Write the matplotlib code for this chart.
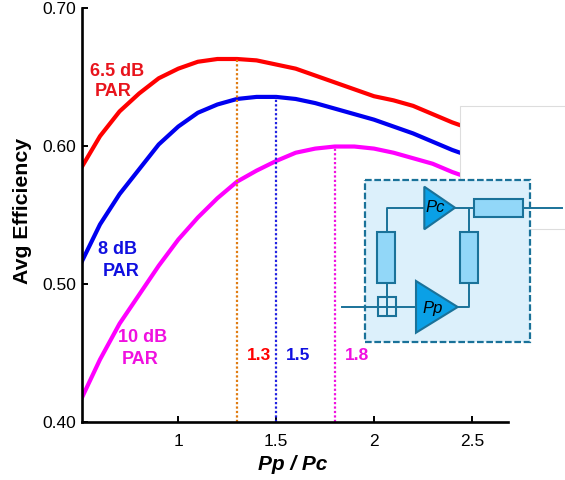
import matplotlib
matplotlib.use('Agg')
import matplotlib.pyplot as plt
from matplotlib.patches import Rectangle, Polygon

plt.rcParams['font.family'] = ['Liberation Sans', 'DejaVu Sans']

# data
ratio = [0.5, 0.6, 0.7, 0.8, 0.9, 1.0, 1.1, 1.2, 1.3, 1.4, 1.5, 1.6, 1.7, 1.8, 1.9, 2.0, 2.1, 2.2, 2.3, 2.4, 2.5]
eff_65 = [0.583, 0.607, 0.625, 0.638, 0.649, 0.656, 0.661, 0.663, 0.663, 0.662, 0.659, 0.656, 0.651, 0.646, 0.641, 0.636, 0.633, 0.629, 0.623, 0.617, 0.612]
eff_8 = [0.514, 0.543, 0.565, 0.583, 0.601, 0.614, 0.624, 0.630, 0.634, 0.6355, 0.6355, 0.634, 0.631, 0.627, 0.623, 0.619, 0.614, 0.609, 0.603, 0.597, 0.592]
eff_10 = [0.415, 0.445, 0.471, 0.492, 0.513, 0.532, 0.548, 0.562, 0.574, 0.582, 0.589, 0.595, 0.598, 0.5995, 0.5995, 0.598, 0.595, 0.591, 0.587, 0.581, 0.576]

opt_x = [1.3, 1.5, 1.8]
opt_y = [0.663, 0.6355, 0.5995]
opt_colors = ['#E07B10', '#2020E0', '#F010E0']
x_ticks = [1, 1.5, 2, 2.5]
y_ticks = [0.40, 0.50, 0.60, 0.70]

W, H = 565, 480
fig = plt.figure(figsize=(W / 100, H / 100), dpi=100)
ax = fig.add_axes([81.5 / W, 1 - 421.5 / H, 426.5 / W, 413.5 / H])

ax.plot(ratio, eff_65, color='#FF0000', lw=3.0, solid_capstyle='butt')
ax.plot(ratio, eff_8, color='#0000F0', lw=3.0, solid_capstyle='butt')
ax.plot(ratio, eff_10, color='#FF00FF', lw=3.0, solid_capstyle='butt')
for x, y, c in zip(opt_x, opt_y, opt_colors):
    ax.plot([x, x], [0.40, y], color=c, lw=1.6, ls=(0, (1, 1)))

ax.set_xlim(0.5054, 2.685)
ax.set_ylim(0.40, 0.70)
ax.set_xticks(x_ticks)
ax.set_xticklabels(['1', '1.5', '2', '2.5'])
ax.set_yticks(y_ticks)
ax.set_yticklabels(['0.40', '0.50', '0.60', '0.70'])
ax.tick_params(direction='in', length=4.5, width=1.4, labelsize=12.5)
ax.tick_params(axis='x', pad=9)
ax.tick_params(axis='y', pad=4)
for s in ['top', 'right']:
    ax.spines[s].set_visible(False)
for s in ['left', 'bottom']:
    ax.spines[s].set_linewidth(1.9)

# overlay in pixel coordinates for the schematic and the labels
ov = fig.add_axes([0, 0, 1, 1], zorder=5)
ov.set_xlim(0, W)
ov.set_ylim(H, 0)
ov.axis('off')
ov.patch.set_alpha(0)

ov.add_patch(Rectangle((459.5, 105.5), 120, 123, fc='white', ec='#DDDDDD', lw=0.8))

edge = '#1A7299'
ov.add_patch(Rectangle((365, 179.5), 164.5, 162, fc='#DCF0FB', ec=edge, lw=1.6, ls=(0, (3, 1.2))))

wires = [
    ([341.7, 416], [307, 307]),
    ([386.7, 386.7, 424.3], [232.3, 207.7, 207.7]),
    ([455, 474], [207.7, 207.7]),
    ([522.7, 561.7], [207.7, 207.7]),
    ([469, 469], [207.7, 232.3]),
    ([457.7, 469, 469], [307, 307, 282.7]),
    ([386.7, 386.7], [282.7, 315.7]),
]
for xs, ys in wires:
    ov.plot(xs, ys, color=edge, lw=1.4)

for x0, y0, x1, y1 in [(474, 199, 522.7, 217.3), (377, 232.3, 395.3, 282.7), (460.3, 232.3, 478, 282.7)]:
    ov.add_patch(Rectangle((x0, y0), x1 - x0, y1 - y0, fc='#92D7F8', ec=edge, lw=1.5))
ov.add_patch(Rectangle((377.7, 297.3), 18.3, 18.4, fc='none', ec=edge, lw=1.5))

ov.add_patch(Polygon([(424.3, 186.7), (424.3, 229.3), (455, 207.7)], fc='#0AA0E6', ec=edge, lw=1.5))
ov.add_patch(Polygon([(416, 281), (416, 332.7), (457.7, 307)], fc='#0AA0E6', ec=edge, lw=1.5))
ov.text(435, 207.5, 'Pc', style='italic', fontsize=12, ha='center', va='center', color='black')
ov.text(432.5, 308, 'Pp', style='italic', fontsize=12, ha='center', va='center', color='black')

# curve and ratio labels
labels = [
    (117, 71, '6.5 dB', '#E8141C', 13), (113, 92, 'PAR', '#E8141C', 13),
    (118, 249, '8 dB', '#1010E0', 13), (121, 271, 'PAR', '#1010E0', 13),
    (143, 338, '10 dB', '#F010E0', 13), (140, 360, 'PAR', '#F010E0', 13),
    (259, 355, '1.3', '#FF0000', 12.5), (298, 355, '1.5', '#1010E0', 12.5), (357, 355, '1.8', '#F010E0', 12.5),
]
for x, y, t, c, fs in labels:
    ov.text(x, y, t, color=c, fontsize=fs, fontweight='bold', ha='center', va='center')

ov.text(292.5, 465, 'Pp / Pc', fontsize=15, fontweight='bold', style='italic', ha='center', va='center')
ov.text(23, 211, 'Avg Efficiency', fontsize=15.3, fontweight='bold', rotation=90, ha='center', va='center')

fig.savefig('out.png', dpi=100)
